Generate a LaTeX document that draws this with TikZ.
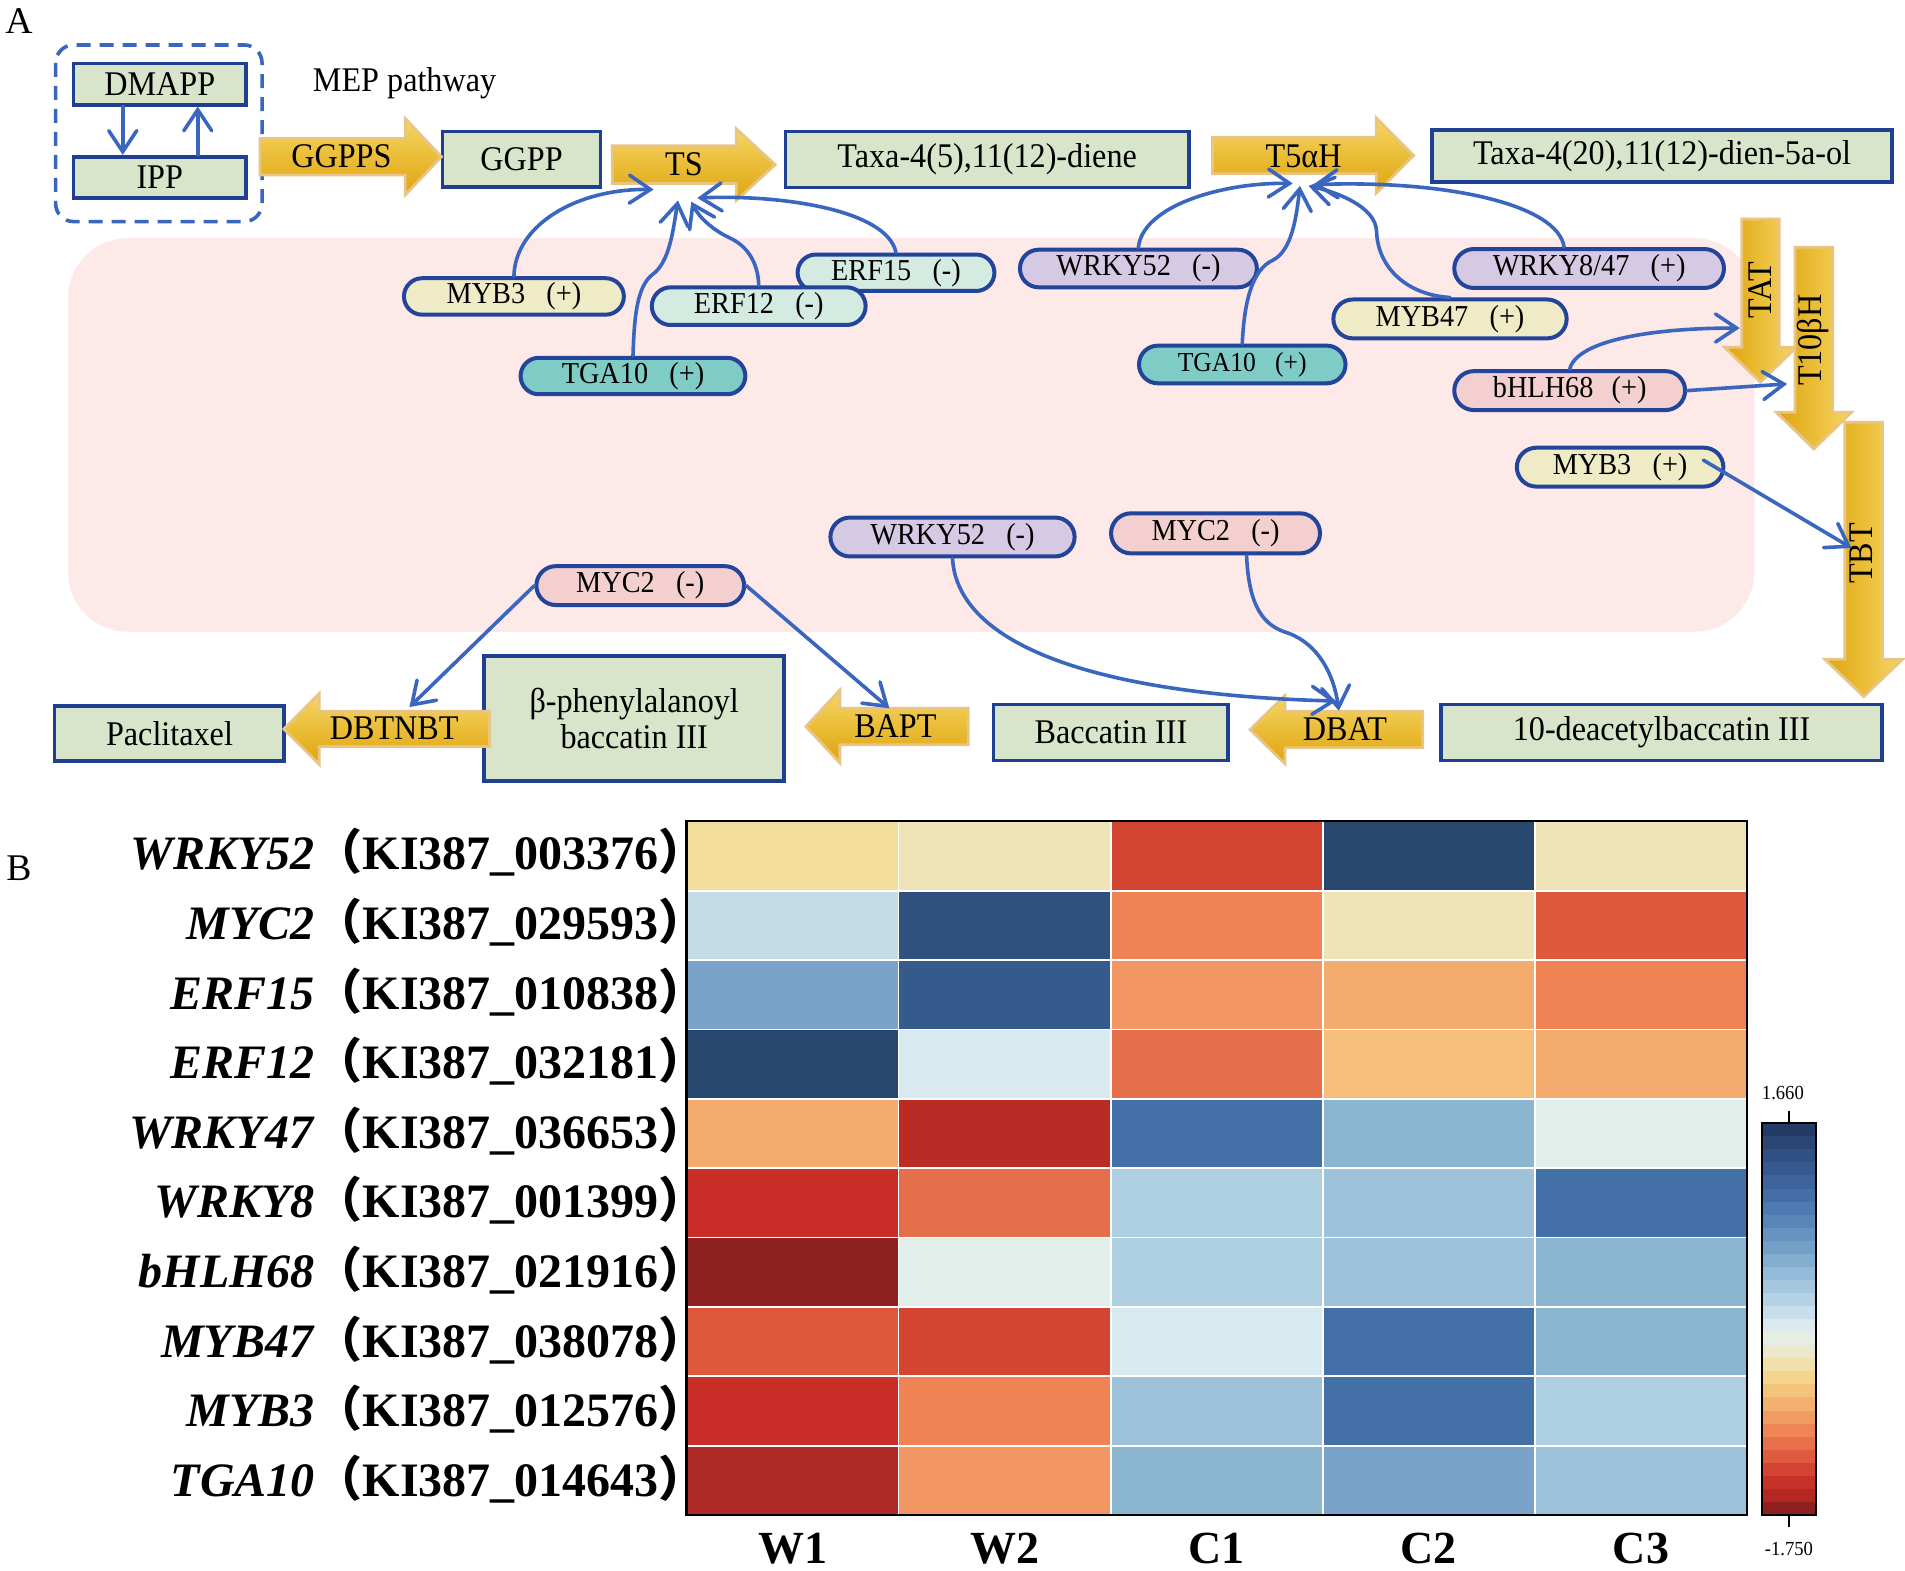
\documentclass[tikz,border=0pt]{standalone}
\usepackage{fontspec}
\setmainfont{Liberation Serif}
\newfontfamily\pwf[FakeStretch=0.93]{Liberation Serif}
\newfontfamily\cjk{Noto Sans CJK SC}
\usetikzlibrary{arrows.meta,shapes.misc}
\definecolor{boxblue}{HTML}{1F3F91}
\definecolor{boxgreen}{HTML}{D9E5CA}
\definecolor{pillblue}{HTML}{22449A}
\definecolor{connblue}{HTML}{3A66BF}
\definecolor{pinkbg}{HTML}{FDE9E7}
\definecolor{fatedge}{HTML}{E8C585}
\definecolor{goldlight}{HTML}{F6D664}
\definecolor{golddark}{HTML}{DFA40C}
\definecolor{pyel}{HTML}{EEEBC6}
\definecolor{pmint}{HTML}{D3EBE0}
\definecolor{pteal}{HTML}{7FCBC6}
\definecolor{plav}{HTML}{D5C9E3}
\definecolor{ppink}{HTML}{F3CFCF}
% heatmap colours
\definecolor{Ya}{HTML}{F4DE9C}
\definecolor{Yb}{HTML}{EFE4B8}
\definecolor{Ra}{HTML}{D44433}
\definecolor{Na}{HTML}{27476F}
\definecolor{Ba}{HTML}{C4DCE8}
\definecolor{Nb}{HTML}{30517E}
\definecolor{Oa}{HTML}{F08354}
\definecolor{Rb}{HTML}{DE583C}
\definecolor{Bb}{HTML}{79A3C8}
\definecolor{Nc}{HTML}{355A8C}
\definecolor{Ob}{HTML}{F29763}
\definecolor{Oc}{HTML}{F3AB6E}
\definecolor{Od}{HTML}{E56E4B}
\definecolor{Bc}{HTML}{D8EAF0}
\definecolor{Oe}{HTML}{F5BF7B}
\definecolor{Rc}{HTML}{BA2B25}
\definecolor{Bd}{HTML}{4470A8}
\definecolor{Be}{HTML}{8BB6CF}
\definecolor{Wa}{HTML}{E2EEE9}
\definecolor{Rd}{HTML}{C82D27}
\definecolor{Bf}{HTML}{AECFE2}
\definecolor{Bg}{HTML}{9EC2D9}
\definecolor{Re}{HTML}{8F2022}
\definecolor{Rf}{HTML}{AE2A24}
% colour bar
\definecolor{cb1}{HTML}{233B66}
\definecolor{cb2}{HTML}{2A4574}
\definecolor{cb3}{HTML}{304F82}
\definecolor{cb4}{HTML}{36598F}
\definecolor{cb5}{HTML}{3C639B}
\definecolor{cb6}{HTML}{436EA6}
\definecolor{cb7}{HTML}{4D7AB0}
\definecolor{cb8}{HTML}{5986B8}
\definecolor{cb9}{HTML}{6693BF}
\definecolor{cb10}{HTML}{74A0C7}
\definecolor{cb11}{HTML}{83ADCE}
\definecolor{cb12}{HTML}{93BAD6}
\definecolor{cb13}{HTML}{A4C6DE}
\definecolor{cb14}{HTML}{B6D2E6}
\definecolor{cb15}{HTML}{C9DEEC}
\definecolor{cb16}{HTML}{DCE9EE}
\definecolor{cb17}{HTML}{E6EDE3}
\definecolor{cb18}{HTML}{ECE8CB}
\definecolor{cb19}{HTML}{F1E0AC}
\definecolor{cb20}{HTML}{F5D58E}
\definecolor{cb21}{HTML}{F5C47C}
\definecolor{cb22}{HTML}{F4B06F}
\definecolor{cb23}{HTML}{F29B62}
\definecolor{cb24}{HTML}{EF8555}
\definecolor{cb25}{HTML}{E8704A}
\definecolor{cb26}{HTML}{DF5A3E}
\definecolor{cb27}{HTML}{D44433}
\definecolor{cb28}{HTML}{C8312A}
\definecolor{cb29}{HTML}{B42824}
\definecolor{cb30}{HTML}{8F2022}

\newcommand\fatright[7]{%
  \path[#1] (#2,#5-#6) -- (#3,#5-#6) -- (#3,#5-#7) -- (#4,#5) -- (#3,#5+#7) -- (#3,#5+#6) -- (#2,#5+#6) -- cycle;}
\newcommand\fatdown[7]{%
  \path[#1] (#5-#6,#2) -- (#5-#6,#3) -- (#5-#7,#3) -- (#5,#4) -- (#5+#7,#3) -- (#5+#6,#3) -- (#5+#6,#2) -- cycle;}

\begin{document}
\begin{tikzpicture}[x=1.215pt,y=-1.215pt,
  box/.style={draw=boxblue, line width=3.6pt, fill=boxgreen, inner sep=0pt,
    font=\pwf\fontsize{34.6}{36.5}\selectfont, align=center},
  bx/.style 2 args={box, minimum width=#1*1.215pt, minimum height=#2*1.215pt},
  pill/.style={rounded rectangle, draw=pillblue, line width=4pt, inner sep=0pt,
    font=\pwf\fontsize{30.4}{33}\selectfont},
  pl/.style n args={3}{pill, fill=#1, minimum width=#2*1.215pt, minimum height=#3*1.215pt},
  conn/.style={draw=connblue, line width=3.6pt, line cap=round,
    -{Straight Barb[length=21pt,width=28pt,line cap=round]}},
  fat/.style={draw=fatedge, line width=2.8pt, top color=goldlight, bottom color=golddark},
  fatv/.style={draw=fatedge, line width=2.8pt, left color=golddark, right color=goldlight},
  lbl/.style={font=\pwf\fontsize{34.6}{38}\selectfont, inner sep=0pt},
  rowlbl/.style={anchor=base east, inner sep=0pt, font=\fontsize{48}{52}\selectfont\bfseries},
  collbl/.style={anchor=base, inner sep=0pt, font=\fontsize{46}{50}\selectfont\bfseries},
  tick/.style={inner sep=0pt, font=\pwf\fontsize{20}{22}\selectfont}
]
\useasboundingbox (0,0) rectangle (1568,1293);
\fill[white] (0,0) rectangle (1568,1293);

% ---------- panel A ----------
\node[anchor=base, inner sep=0pt, font=\fontsize{37.7}{40}\selectfont] (labA) at (15.7,27.4) {A};
\fill[pinkbg, rounded corners=60pt] (56,196) rectangle (1444,520);

\draw[connblue, line width=3.6pt, dash pattern=on 14pt off 9pt, rounded corners=18pt]
  (45.8,37) rectangle (215.7,182.4);
\node[bx={142}{34}] (dmapp) at (131.5,69.2) {DMAPP};
\node[bx={142}{34}] (ipp) at (131.5,146) {IPP};
\node[lbl, anchor=base] (mep) at (333,75.5) {MEP pathway};

\node[bx={130}{46}] (ggpp) at (429.3,131.1) {GGPP};
\node[bx={332}{46}] (diene) at (812.5,131.4) {Taxa-4(5),11(12)-diene};
\node[bx={379}{43}] (dienol) at (1368,128.5) {Taxa-4(20),11(12)-dien-5a-ol};
\node[bx={189}{45}] (pacli) at (139.5,603.7) {Paclitaxel};
\node[bx={247}{103}] (phenyl) at (522,591.3) {β-phenylalanoyl\\baccatin III};
\node[bx={193}{46}] (bacc) at (914.4,602.9) {Baccatin III};
\node[bx={363}{46}] (deac) at (1367.6,602.9) {10-deacetylbaccatin III};

% fat arrows
\fatright{fat}{214}{333.5}{363.3}{129}{15}{31.5}
\fatright{fat}{504}{606}{638}{135.5}{15.5}{29.5}
\fatright{fat}{998}{1132.7}{1163.5}{128}{15}{31}
\fatright{fat}{403}{262.7}{233.7}{600}{14.5}{29}
\fatright{fat}{797}{691.3}{663.3}{598}{15}{30}
\fatright{fat}{1171}{1057.6}{1029}{600.5}{15}{28}
\fatdown{fatv}{180.2}{285.8}{314.6}{1449}{15.4}{29.5}
\fatdown{fatv}{203.5}{339.3}{369.5}{1493}{15.5}{31}
\fatdown{fatv}{347.5}{542.6}{573.4}{1534}{15.5}{32}

\node[lbl] (ggpps) at (281,128.5) {GGPPS};
\node[lbl] (ts) at (563,135.5) {TS};
\node[lbl] (t5ah) at (1073,128.5) {T5αH};
\node[lbl] (dbtnbt) at (324.5,599) {DBTNBT};
\node[lbl] (bapt) at (737,598) {BAPT};
\node[lbl] (dbat) at (1107,600) {DBAT};
\node[lbl, rotate=90] (tat) at (1449,239) {TAT};
\node[lbl, rotate=90] (t10) at (1492.5,280) {T10βH};
\node[lbl, rotate=90] (tbt) at (1532,455.5) {TBT};

% regulator pills
\node[pl={pyel}{181}{30}] (myba) at (423,244) {MYB3\hspace{0.7em}(+)};
\node[pl={pmint}{162}{30}] (erfb) at (737.5,224.5) {ERF15\hspace{0.7em}(-)};
\node[pl={pmint}{176}{31}] (erfa) at (624.5,252) {ERF12\hspace{0.7em}(-)};
\node[pl={pteal}{185}{30}] (tgaa) at (521,309.5) {TGA10\hspace{0.7em}(+)};
\node[pl={plav}{195}{31}] (wrkya) at (937,221) {WRKY52\hspace{0.7em}(-)};
\node[pl={plav}{222}{32}] (wrkyc) at (1308,221) {WRKY8/47\hspace{0.7em}(+)};
\node[pl={pyel}{192}{32}] (mybb) at (1193.5,262.5) {MYB47\hspace{0.7em}(+)};
\node[pl={pteal}{170}{31}, font=\pwf\fontsize{27.5}{30}\selectfont] (tgab) at (1022.5,300) {TGA10\hspace{0.7em}(+)};
\node[pl={ppink}{190}{32}] (bhlh) at (1292,321.5) {bHLH68\hspace{0.6em}(+)};
\node[pl={pyel}{170}{32}] (mybc) at (1333.5,384.5) {MYB3\hspace{0.7em}(+)};
\node[pl={plav}{201}{32}] (wrkyb) at (784,442) {WRKY52\hspace{0.7em}(-)};
\node[pl={ppink}{172}{33}] (mycb) at (1000.5,439) {MYC2\hspace{0.7em}(-)};
\node[pl={ppink}{171}{32}] (myca) at (527,482) {MYC2\hspace{0.7em}(-)};

% connector end points
\coordinate (tsA) at (538,156);
\coordinate (tsB) at (558,165);
\coordinate (tsC) at (569,166);
\coordinate (tsD) at (574,163);
\coordinate (tA) at (1064,151);
\coordinate (tB) at (1070,153);
\coordinate (tC) at (1077,153);
\coordinate (tD) at (1081,152);
\coordinate (tatA) at (1432,270);
\coordinate (t10A) at (1471,316);
\coordinate (tbtA) at (1524,451);
\coordinate (dbatA) at (1102,585);
\coordinate (dbatB) at (1100,577);
\coordinate (dbtA) at (337,582);
\coordinate (baptA) at (732,583);

% connectors
\draw[conn] ([xshift=-37pt]dmapp.south) -- ([xshift=-37pt]ipp.north);
\draw[conn] ([xshift=38pt]ipp.north) -- ([xshift=38pt]dmapp.south);
\draw[conn] (myba.north) .. controls (424,185) and (475,155) .. (tsA);
\draw[conn] (tgaa.north) .. controls (522,262) and (524,236) .. (537,226) .. controls (551,216) and (554,190) .. (tsB);
\draw[conn] (erfa.north) .. controls (624,215) and (614,202) .. (601,196) .. controls (588,190) and (576,180) .. (tsC);
\draw[conn] (erfb.north) .. controls (730,172) and (640,160) .. (tsD);
\draw[conn] (wrkya.north) .. controls (940,170) and (1005,150) .. (tA);
\draw[conn] (tgab.north) .. controls (1024,250) and (1030,222) .. (1048,214) .. controls (1063,206) and (1067,180) .. (tB);
\draw[conn] (mybb.north) .. controls (1160,243) and (1134,222) .. (1133,190) .. controls (1132,170) and (1100,158) .. (tC);
\draw[conn] ([xshift=-25pt]wrkyc.north) .. controls (1282,168) and (1190,148) .. (tD);
\draw[conn] (bhlh.north) .. controls (1298,280) and (1360,270) .. (tatA);
\draw[conn] (bhlh.east) -- (t10A);
\draw[conn] ([xshift=-22pt,yshift=7pt]mybc.east) -- (tbtA);
\draw[conn] ([xshift=31pt]mycb.south) .. controls (1028,500) and (1040,515) .. (1060,521) .. controls (1085,530) and (1098,555) .. (dbatA);
\draw[conn] (wrkyb.south) .. controls (788,530) and (900,572) .. (dbatB);
\draw[conn] (myca.west) -- (dbtA);
\draw[conn] (myca.east) -- (baptA);

% ---------- panel B ----------
\node[anchor=base, inner sep=0pt, font=\fontsize{37.7}{40}\selectfont] (labB) at (15.5,724.5) {B};

\foreach \row [count=\r from 0] in {{Ya,Yb,Ra,Na,Yb},{Ba,Nb,Oa,Yb,Rb},{Bb,Nc,Ob,Oc,Oa},
  {Na,Bc,Od,Oe,Oc},{Oc,Rc,Bd,Be,Wa},{Rd,Od,Bf,Bg,Bd},{Re,Wa,Bf,Bg,Be},
  {Rb,Ra,Bc,Bd,Be},{Rd,Oa,Bg,Bd,Bf},{Rf,Ob,Be,Bb,Bg}}{
  \foreach \c [count=\k from 0] in \row {
    \fill[\c] (565+\k*174.6, 676+\r*57.1) rectangle ++(174.6,57.1);
  }
}
\foreach \k in {1,...,4} \draw[white, line width=1.8pt] (565+\k*174.6,676) -- ++(0,571);
\foreach \r in {1,...,9} \draw[white, line width=1.8pt] (565,676+\r*57.1) -- ++(873,0);
\draw[black, line width=2.4pt] (565,676) rectangle (1438,1247);

\foreach \g/\id [count=\r from 0] in {WRKY52/003376,MYC2/029593,ERF15/010838,ERF12/032181,
  WRKY47/036653,WRKY8/001399,bHLH68/021916,MYB47/038078,MYB3/012576,TGA10/014643}{
  \node[rowlbl] (row\r) at (582,716+57.3*\r) {\textit{\g}{\cjk （}KI387\_\id{\cjk ）}};
}
\foreach \t [count=\k from 0] in {W1,W2,C1,C2,C3}{
  \node[collbl] (col\k) at (652.3+174.6*\k,1286.5) {\t};
}

% colour bar
\foreach \i in {1,...,30} \fill[cb\i] (1450,{924.5+(\i-1)*10.75}) rectangle ++(45,10.75);
\draw[black, line width=2pt] (1450,924.5) rectangle (1495,1247);
\draw[black, line width=1.5pt] (1472.5,914.6) -- (1472.5,924.5);
\draw[black, line width=1.5pt] (1472.5,1247) -- (1472.5,1257);
\node[tick, anchor=base] (cbmax) at (1467.5,904.8) {1.660};
\node[tick, anchor=base] (cbmin) at (1472.5,1280) {-1.750};
\end{tikzpicture}
\end{document}
